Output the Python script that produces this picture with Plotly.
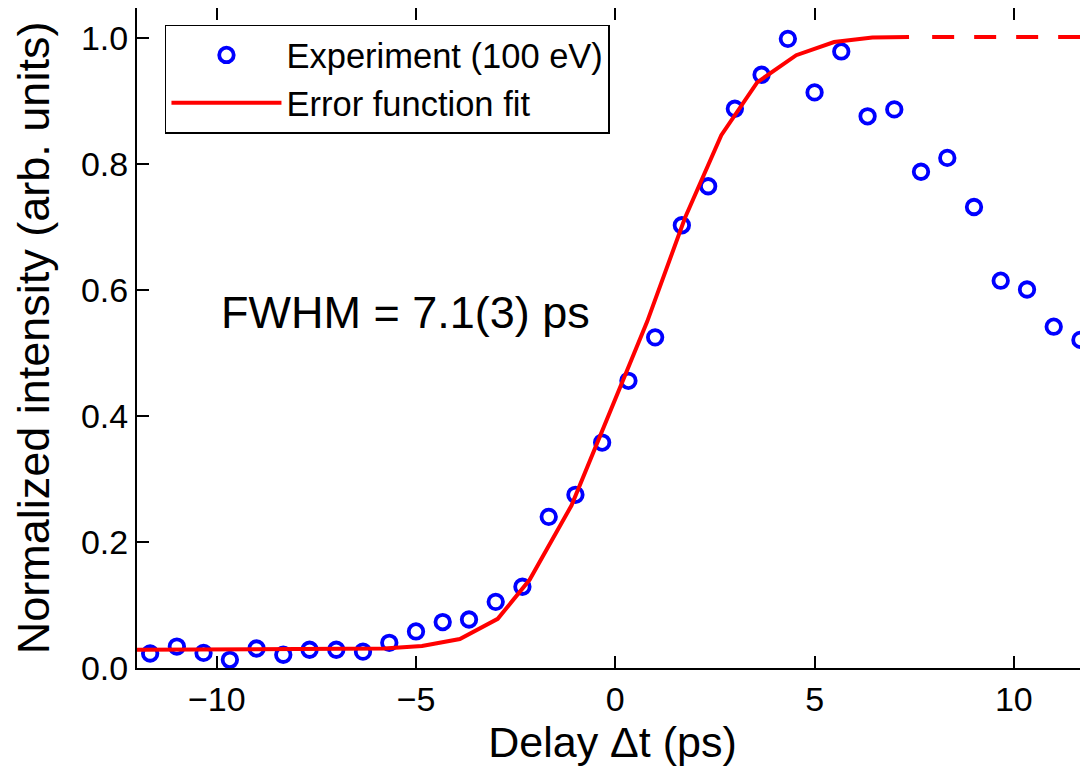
import plotly.graph_objects as go

# Experimental data: delay (ps) and normalized intensity
delay_ps = [-11.67, -11.0, -10.33, -9.67, -9.0, -8.33, -7.67, -7.0, -6.33, -5.67,
            -5.0, -4.33, -3.67, -3.0, -2.33, -1.67, -1.0, -0.33, 0.33, 1.0,
            1.67, 2.33, 3.0, 3.67, 4.33, 5.0, 5.67, 6.33, 7.0, 7.67,
            8.33, 9.0, 9.67, 10.33, 11.0, 11.67]
intensity = [0.023, 0.034, 0.024, 0.013, 0.031, 0.021, 0.029, 0.029, 0.026, 0.040,
             0.058, 0.073, 0.077, 0.105, 0.129, 0.240, 0.275, 0.358, 0.456, 0.525,
             0.703, 0.765, 0.888, 0.942, 0.999, 0.914, 0.979, 0.876, 0.887, 0.788,
             0.810, 0.732, 0.615, 0.601, 0.542, 0.521]

# Error function fit (solid part)
fit_x = [-12.0, -5.8, -4.85, -3.9, -2.95, -2.15, -1.1, -0.2, 0.8, 1.75,
         2.66, 3.56, 4.54, 5.49, 6.45, 7.37]
fit_y = [0.029, 0.031, 0.035, 0.046, 0.078, 0.140, 0.258, 0.395, 0.55, 0.715,
         0.846, 0.930, 0.973, 0.994, 1.001, 1.002]

# Extrapolated plateau (dashed)
ext_x = [7.95, 12.0]
ext_y = [1.002, 1.002]

x_range = [-12.0, 11.86]
y_range = [0.0, 1.048]
x_ticks = [-10, -5, 0, 5, 10]
y_ticks = [0.0, 0.2, 0.4, 0.6, 0.8, 1.0]

FONT = "Liberation Sans, Arial, Helvetica, sans-serif"

fig = go.Figure()
fig.add_trace(go.Scatter(
    x=delay_ps, y=intensity, mode="markers", name="Experiment (100 eV)",
    marker=dict(symbol="circle-open", size=14.5, color="#0000ff",
                line=dict(width=3.8, color="#0000ff")),
))
fig.add_trace(go.Scatter(
    x=fit_x, y=fit_y, mode="lines", name="Error function fit",
    line=dict(color="#ff0000", width=4),
))
fig.add_trace(go.Scatter(
    x=ext_x, y=ext_y, mode="lines", showlegend=False,
    line=dict(color="#ff0000", width=4, dash="22px,20px"),
))

fig.add_annotation(
    x=-9.95, y=0.565, xref="x", yref="y", xanchor="left", yanchor="middle",
    text="FWHM = 7.1(3) ps", showarrow=False,
    font=dict(family=FONT, size=45, color="black"),
)

axis_common = dict(
    showgrid=False, zeroline=False, showline=True, linecolor="black", linewidth=2,
    ticks="inside", ticklen=12, tickwidth=2, tickcolor="black",
    tickfont=dict(family=FONT, size=34, color="black"),
    automargin=False,
)

fig.update_xaxes(
    range=x_range, tickvals=x_ticks, mirror="ticks",
    title=dict(text="Delay Δt (ps)", font=dict(family=FONT, size=43, color="black"),
               standoff=10),
    ticklabelstandoff=0,
    **axis_common,
)
fig.update_yaxes(
    range=y_range, tickvals=y_ticks, tickformat=".1f",
    title=dict(text="Normalized intensity (arb. units)",
               font=dict(family=FONT, size=45, color="black"), standoff=29),
    ticklabelstandoff=0,
    **axis_common,
)

# the page body adds an 8px offset, so the figure is 8px smaller each way
fig.update_layout(
    width=1080, height=764,
    margin=dict(l=129, r=0, t=0, b=104),
    plot_bgcolor="white", paper_bgcolor="white",
    font=dict(family=FONT, color="black"),
    legend=dict(
        x=0.0294, y=0.975, xanchor="left", yanchor="top",
        bgcolor="white", bordercolor="black", borderwidth=1.5,
        font=dict(family=FONT, size=34.5, color="black"),
        itemwidth=110, tracegroupgap=0,
    ),
)

fig.write_html("out.html")
